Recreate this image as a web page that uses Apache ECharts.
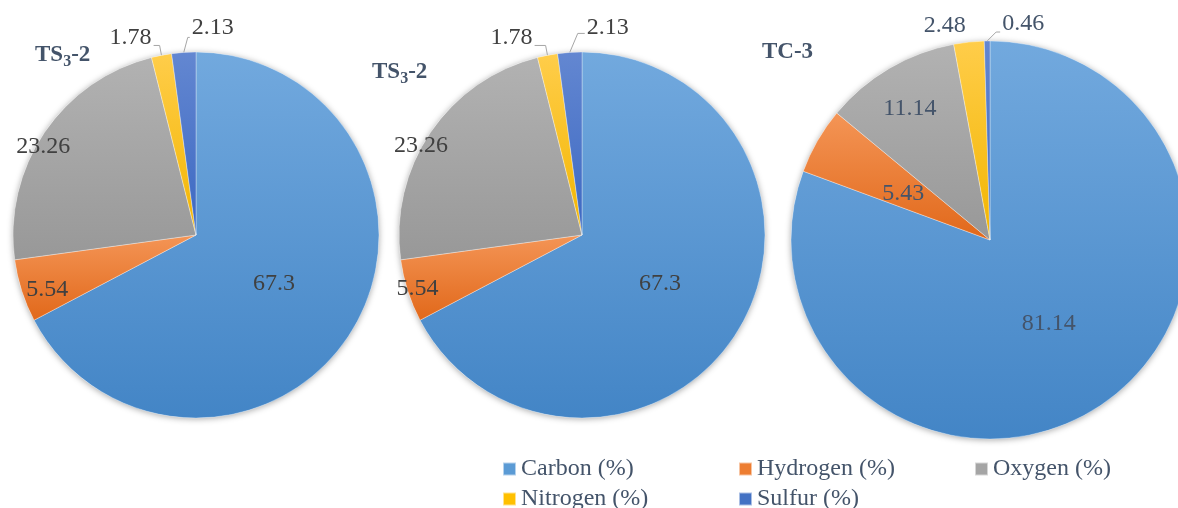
<!DOCTYPE html>
<html>
<head>
<meta charset="utf-8">
<script src="https://cdn.jsdelivr.net/npm/echarts@6/dist/echarts.min.js"></script>
<style>
  html, body { margin: 0; padding: 0; background: #fff; }
  #chart { width: 1178px; height: 508px; }
</style>
</head>
<body>
<div id="chart"></div>
<script>
// Elemental composition of the three samples (wt %)
const elements = ['Carbon (%)', 'Hydrogen (%)', 'Oxygen (%)', 'Nitrogen (%)', 'Sulfur (%)'];
const sampleTitles = ['TS{sub|3}-2', 'TS{sub|3}-2', 'TC-3'];
const ts3First = [67.3, 5.54, 23.26, 1.78, 2.13];
const ts3Second = [67.3, 5.54, 23.26, 1.78, 2.13];
const tc3 = [81.14, 5.43, 11.14, 2.48, 0.46];

// Slice fills: light at the top of each slice, darker at the bottom
const sliceGradients = [
  ['#72A9DE', '#4385C6'],
  ['#F49556', '#E1681A'],
  ['#B2B2B2', '#989898'],
  ['#FFCD4A', '#F2B500'],
  ['#6387D1', '#3C68C2']
];
const legendColors = ['#5B9BD5', '#ED7D31', '#A5A5A5', '#FFC000', '#4472C4'];

const SERIF = 'Liberation Serif, Times New Roman, serif';
const SLATE = '#44546A';

// Placement of each pie.
//  inside: slices labelled at mid radius, with an optional [dx, dy] nudge
//  ring:   slices labelled near the rim: [distance as fraction of radius, dx, dy]
//  nitrogenLine: [show leader, second leg length, lift of the text]
//  sulfurLead: leader bend [dx, dy], second leg length, text lift
const pies = [
  { values: ts3First, center: [196, 235], r: 183, title: [35, 41],
    inside: { 0: [-3, 0] }, ring: { 1: [0.86, 4, 6], 2: [0.965, -4, 12] },
    labelColor: '#404040', nitrogenLine: [true, 6, 8], sulfurLead: [4, -15, 2, -10] },
  { values: ts3Second, center: [582, 235], r: 183, title: [372, 58],
    inside: { 0: [-3, 0] }, ring: { 1: [0.945, 3, 0], 2: [1.0, -7, 15] },
    labelColor: '#404040', nitrogenLine: [true, 11, 8], sulfurLead: [8, -19, 7, -6] },
  { values: tc3, center: [990, 240], r: 199, title: [762, 41],
    inside: { 0: [0, 0], 1: [2, 5] }, ring: { 2: [0.78, 0, 5] },
    labelColor: SLATE, nitrogenLine: [false, 0, 4], sulfurLead: [9, -9, 4, -8] }
];

function fillFor(i) {
  const g = sliceGradients[i];
  return new echarts.graphic.LinearGradient(0, 0, 0, 1, [
    { offset: 0, color: g[0] }, { offset: 1, color: g[1] }
  ]);
}

function baseLabel(color) {
  return { formatter: '{c}', fontFamily: SERIF, fontSize: 24, color: color, textBorderWidth: 0 };
}

const series = [];

// Soft drop shadow behind each pie
pies.forEach(function (p) {
  series.push({
    type: 'pie', center: p.center, radius: p.r, silent: true, z: 1,
    animation: false, label: { show: false }, labelLine: { show: false },
    emphasis: { disabled: true },
    data: [{ value: 1, name: '', itemStyle: { color: '#ffffff', shadowBlur: 6, shadowColor: 'rgba(0,0,0,0.35)', shadowOffsetY: 1 } }]
  });
});

// The pies themselves
pies.forEach(function (p) {
  const lead = p.sulfurLead;
  series.push({
    type: 'pie', center: p.center, radius: p.r, z: 2,
    startAngle: 90, clockwise: true, animation: false,
    avoidLabelOverlap: false,
    emphasis: { disabled: true },
    itemStyle: { borderColor: 'rgba(255,255,255,0.55)', borderWidth: 0.6 },
    label: Object.assign({ show: false }, baseLabel(p.labelColor)),
    labelLine: { show: false },
    labelLayout: function (params) {
      const i = params.dataIndex;
      if (p.inside[i]) return { dx: p.inside[i][0], dy: p.inside[i][1] };
      if (i === 3) {
        const out = { dy: -p.nitrogenLine[2] };
        if (params.labelLinePoints) out.labelLinePoints = params.labelLinePoints;
        return out;
      }
      if (i !== 4 || !params.labelLinePoints) return {};
      const a = params.labelLinePoints[0];
      const bend = [a[0] + lead[0], a[1] + lead[1]];
      const end = [bend[0] + lead[2], bend[1]];
      return {
        x: end[0] + 2, y: end[1] + lead[3], align: 'left', verticalAlign: 'middle',
        labelLinePoints: [a, bend, end]
      };
    },
    data: p.values.map(function (v, i) {
      let label = { show: false };
      let labelLine = { show: false };
      if (p.inside[i]) {
        label = Object.assign({ show: true, position: 'inside' }, baseLabel(p.labelColor));
      } else if (i === 3) {
        const nl = p.nitrogenLine;
        label = Object.assign({ show: true, position: 'outside', distanceToLabelLine: 2 }, baseLabel(p.labelColor));
        labelLine = nl[0]
          ? { show: true, length: 10, length2: nl[1], lineStyle: { color: '#A6A6A6', width: 1 } }
          : { show: false, length: 12, length2: 0 };
      } else if (i === 4) {
        label = Object.assign({ show: true, position: 'outside', distanceToLabelLine: 2 }, baseLabel(p.labelColor));
        labelLine = { show: true, length: 10, length2: 3, lineStyle: { color: '#A6A6A6', width: 1 } };
      }
      return { name: elements[i], value: v, itemStyle: { color: fillFor(i) }, label: label, labelLine: labelLine };
    })
  });
});

// Transparent rings that carry the labels sitting near the rim
pies.forEach(function (p) {
  Object.keys(p.ring).forEach(function (key) {
    const idx = Number(key);
    const spec = p.ring[key];
    const d = spec[0] * p.r;
    series.push({
      type: 'pie', center: p.center, radius: [d - 12, d + 12], z: 4,
      silent: true, animation: false, avoidLabelOverlap: false,
      emphasis: { disabled: true },
      itemStyle: { color: 'rgba(0,0,0,0)', borderWidth: 0 },
      labelLine: { show: false },
      label: { show: false },
      labelLayout: function () { return { dx: spec[1], dy: spec[2] }; },
      data: p.values.map(function (v, i) {
        return {
          name: elements[i], value: v,
          label: i === idx
            ? Object.assign({ show: true, position: 'inside' }, baseLabel(p.labelColor))
            : { show: false }
        };
      })
    });
  });
});

const titles = pies.map(function (p, k) {
  return {
    text: sampleTitles[k], left: p.title[0], top: p.title[1], padding: 0,
    textStyle: {
      fontFamily: SERIF, fontSize: 23, fontWeight: 'bold', color: SLATE,
      rich: { sub: { fontFamily: SERIF, fontSize: 16, fontWeight: 'bold', color: SLATE, padding: [13, 0, 0, 0] } }
    }
  };
});

const chart = echarts.init(document.getElementById('chart'), null, { renderer: 'canvas' });
chart.setOption({
  backgroundColor: '#ffffff',
  animation: false,
  title: titles,
  legend: {
    data: elements.map(function (n, i) { return { name: n, itemStyle: { color: legendColors[i] } }; }),
    left: 502, top: 454, width: 720, padding: 0,
    icon: 'rect', itemWidth: 13, itemHeight: 13, itemGap: 0,
    selectedMode: false,
    textStyle: { fontFamily: SERIF, fontSize: 24, color: SLATE, width: 217, lineHeight: 30 }
  },
  series: series
});
</script>
</body>
</html>
